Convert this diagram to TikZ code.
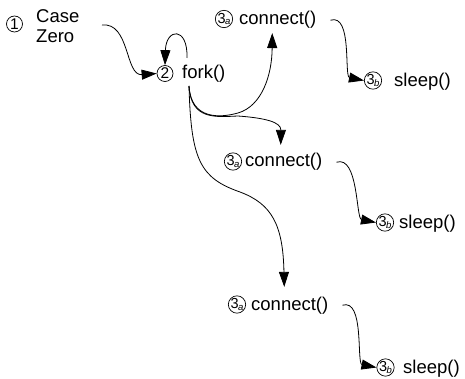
\documentclass[tikz,border=0pt]{standalone}
\usepackage{fontspec}
\setmainfont{Liberation Sans}
\usetikzlibrary{arrows.meta}
\begin{document}
\begin{tikzpicture}[x=1pt,y=-1pt,
  lbl/.style={inner sep=0pt, font=\fontsize{18.5}{20}\selectfont, anchor=base west},
  num/.style={circle, draw, line width=0.7pt, minimum size=16pt, inner sep=0pt,
              font=\fontsize{15.5}{15.5}\selectfont},
  flow/.style={line width=0.8pt, -{Triangle[length=15pt,width=10pt]}},
]
\newcommand{\stepnum}[2]{{\fontsize{14.5}{14.5}\selectfont #1}\kern-0.6pt\raisebox{-1.6pt}{\fontsize{9.5}{9.5}\selectfont\itshape #2}}
\useasboundingbox (0,0) rectangle (465,379);

% step 1 and 2
\node[num] (n1) at (14.5,24) {1};
\node[lbl, anchor=north west, align=left] (case) at (36,9.6) {Case\\Zero};
\node[num] (n2) at (165,73.5) {2};
\node[lbl] (fork) at (182,79) {fork()};

% three connect/sleep pairs
\node[num] (a1) at (224,19) {\stepnum{3}{a}};
\node[lbl] (c1) at (239,25) {connect()};
\node[num] (b1) at (373,80.5) {\stepnum{3}{b}};
\node[lbl] (s1) at (394,87) {sleep()};

\node[num] (a2) at (233,161.5) {\stepnum{3}{a}};
\node[lbl] (c2) at (245,167) {connect()};
\node[num] (b2) at (385,222.5) {\stepnum{3}{b}};
\node[lbl] (s2) at (399,228) {sleep()};

\node[num] (a3) at (237,304.5) {\stepnum{3}{a}};
\node[lbl] (c3) at (251,310) {connect()};
\node[num] (b3) at (385.5,367.5) {\stepnum{3}{b}};
\node[lbl] (s3) at (403,373) {sleep()};

% free ends of the connectors
\coordinate (cz) at (102,25);
\coordinate (lp) at (187,58);
\coordinate (fk) at (189,86);

% case zero into fork, and the fork self loop
\draw[flow] (cz) .. controls (130,22) and (125,76) .. (n2.west);
\draw[flow] (lp) .. controls (188,26) and (166,28) .. (n2.north);

% fork branches
\draw[flow] (fk) .. controls (191,120) and (220,118) .. (238,113)
  .. controls (262,106) and (272,75) .. ([xshift=-5.5pt,yshift=-4pt]c1.south);
\draw[flow] (fk) .. controls (191,120) and (215,117) .. (238,116)
  .. controls (265,118) and (281,122) .. ([xshift=-3pt,yshift=8.5pt]c2.north);
\draw[flow] (fk) .. controls (191,160) and (200,178) .. (240,192)
  .. controls (272,204) and (283,225) .. ([xshift=-5.5pt,yshift=9.5pt]c3.north);

% connect into sleep
\draw[flow] ([xshift=14pt]c1.east) .. controls +(22,-7) and +(-20,-4) .. (b1.west);
\draw[flow] ([xshift=14pt]c2.east) .. controls +(22,-7) and +(-20,-4) .. (b2.west);
\draw[flow] ([xshift=14pt]c3.east) .. controls +(22,-7) and +(-20,-4) .. (b3.west);
\end{tikzpicture}
\end{document}
